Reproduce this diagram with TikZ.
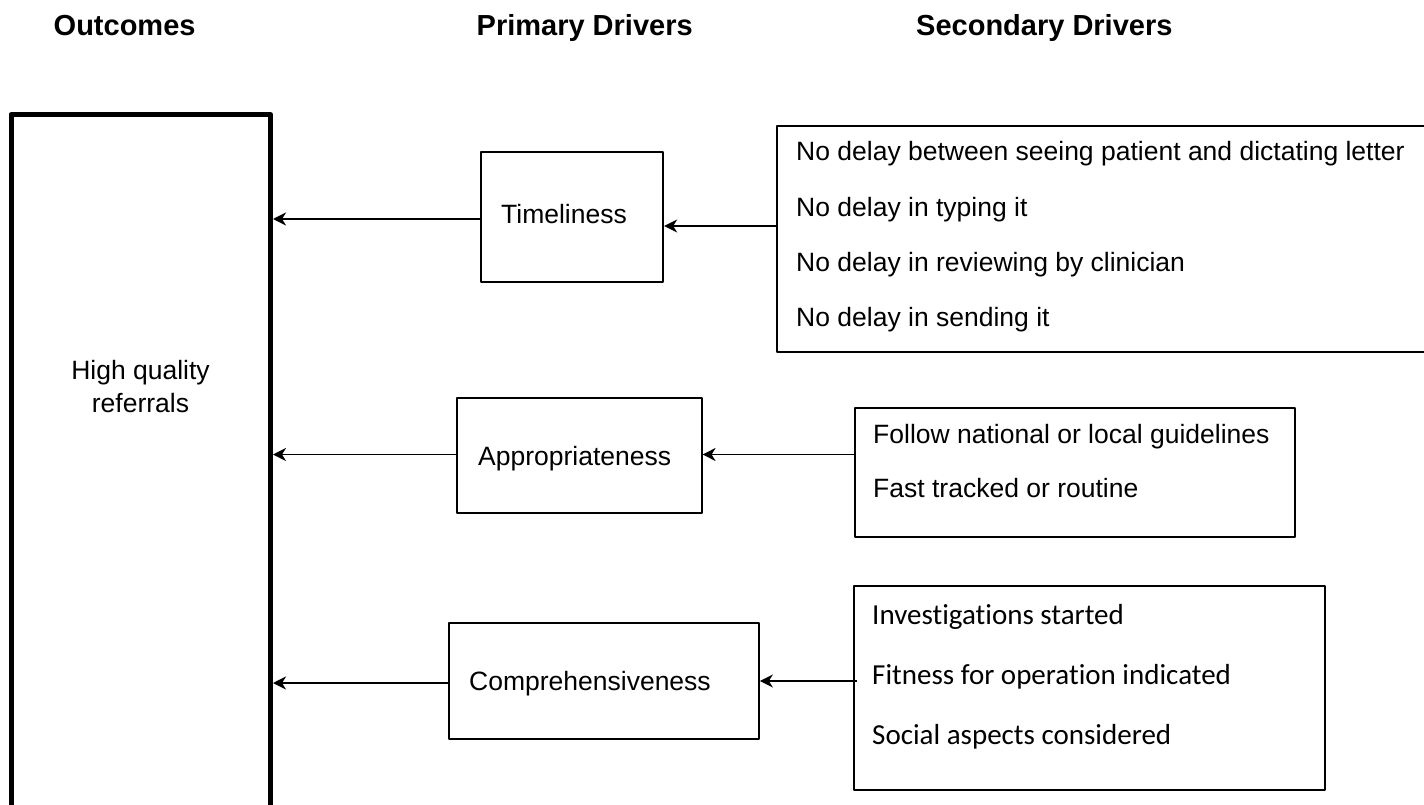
\documentclass[tikz,border=0pt]{standalone}
\usepackage{fontspec}
\setmainfont{Liberation Sans}
\newfontfamily\calib[Ligatures={NoCommon}]{Carlito}
\usetikzlibrary{arrows.meta}
\begin{document}
\begin{tikzpicture}[x=1pt,y=-1pt,
  box/.style={draw, line width=1.7pt, inner sep=0pt, line join=round},
  arr/.style={line width=1.7pt, -{Stealth[length=13pt,width=13pt,inset=4pt]}},
  txt/.style={inner sep=0pt, anchor=base west, font=\fontsize{26.5}{32.7}\selectfont},
  ctxt/.style={inner sep=0pt, anchor=base west, font=\calib\fontsize{29}{35}\selectfont},
  head/.style={inner sep=0pt, anchor=base west, font=\bfseries\fontsize{29}{35}\selectfont}]
\useasboundingbox (0,0) rectangle (1424,805);
% headings
\node[head] (h1) at (53.5,36) {Outcomes};
\node[head] (h2) at (476.5,36) {Primary Drivers};
\node[head] (h3) at (916,36) {Secondary Drivers};
% boxes
\node[box, line width=5pt, minimum width=259.5pt, minimum height=800pt, outer sep=2.5pt] (out) at (140.75,514.5) {};
\node[box, minimum width=182.3pt, minimum height=130pt] (t) at (572.15,217) {};
\node[box, minimum width=653.3pt, minimum height=225.7pt] (s1) at (1103.35,238.85) {};
\node[box, minimum width=245pt, minimum height=115pt] (a) at (579.2,455.5) {};
\node[box, minimum width=440pt, minimum height=128.7pt] (s2) at (1075,472.35) {};
\node[box, minimum width=310pt, minimum height=116pt] (c) at (604,681) {};
\node[box, minimum width=471pt, minimum height=204pt] (s3) at (1089.5,688) {};
% texts
\node[inner sep=0pt, align=center, font=\fontsize{26.5}{32.7}\selectfont] (outtxt) at (140.5,386.7) {High quality\\referrals};
\node[txt] (ttxt) at (501,223) {Timeliness};
\node[txt] (atxt) at (478,465) {Appropriateness};
\node[txt] (ctxt1) at (469,690.7) {Comprehensiveness};
\node[txt] (s1a) at (796,161) {No delay between seeing patient and dictating letter};
\node[txt] (s1b) at (796,216.7) {No delay in typing it};
\node[txt] (s1c) at (796,271.7) {No delay in reviewing by clinician};
\node[txt] (s1d) at (796,326.7) {No delay in sending it};
\node[txt] (s2a) at (873,443.5) {Follow national or local guidelines};
\node[txt] (s2b) at (873,497.5) {Fast tracked or routine};
\node[ctxt] (s3a) at (872,624.3) {Investigations started};
\node[ctxt] (s3b) at (872,684.3) {Fitness for operation indicated};
\node[ctxt] (s3c) at (872,744.3) {Social aspects considered};
% connectors
\draw[arr] ([yshift=-2pt]t.west) -- ([yshift=-2pt]t.west -| out.east);
\draw[arr] ([yshift=-9pt]t.east -| s1.west) -- ([yshift=-9pt]t.east);
\draw[arr] ([yshift=1pt]a.west) -- ([yshift=1pt]a.west -| out.east);
\draw[arr] ([yshift=1pt]a.east -| s2.west) -- ([yshift=1pt]a.east);
\draw[arr] ([yshift=-2pt]c.west) -- ([yshift=-2pt]c.west -| out.east);
\draw[arr] ([xshift=4pt]s3.west |- c.east) -- (c.east);
\end{tikzpicture}
\end{document}
